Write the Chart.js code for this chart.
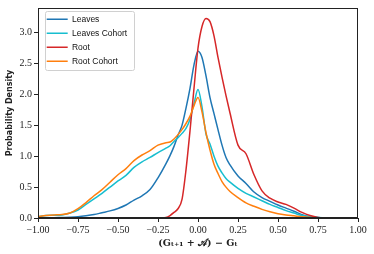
<!DOCTYPE html>
<html>
<head>
<meta charset="utf-8">
<script src="https://cdn.jsdelivr.net/npm/chart.js@4.4.1/dist/chart.umd.min.js"></script>
<style>
html,body{margin:0;padding:0;background:#fff;}
#wrap{width:374px;height:254px;}
</style>
</head>
<body>
<div id="wrap"><canvas id="c" width="374" height="254"></canvas></div>
<script>
const xs = [-1, -0.95, -0.9, -0.85, -0.8, -0.75, -0.7, -0.65, -0.6, -0.55, -0.5, -0.45, -0.4, -0.35, -0.3, -0.25, -0.2, -0.175, -0.15, -0.125, -0.1, -0.075, -0.05, -0.025, 0, 0.025, 0.05, 0.075, 0.1, 0.125, 0.15, 0.175, 0.2, 0.25, 0.3, 0.35, 0.4, 0.45, 0.5, 0.55, 0.6, 0.65, 0.7, 0.75, 0.8, 0.85, 0.9, 0.95, 1.0];

const leaves = [0, 0, 0.005, 0.008, 0.012, 0.02, 0.035, 0.055, 0.085, 0.115, 0.155, 0.21, 0.29, 0.36, 0.46, 0.65, 0.88, 1.01, 1.16, 1.34, 1.5, 1.78, 2.1, 2.48, 2.7, 2.6, 2.3, 1.95, 1.69, 1.43, 1.18, 0.98, 0.86, 0.68, 0.56, 0.42, 0.33, 0.27, 0.21, 0.16, 0.11, 0.055, 0.02, 0.008, 0.003, 0, 0, 0, 0];

const leavesCohort = [0.02, 0.04, 0.045, 0.05, 0.08, 0.13, 0.22, 0.31, 0.4, 0.5, 0.6, 0.69, 0.82, 0.91, 0.98, 1.06, 1.13, 1.17, 1.24, 1.3, 1.37, 1.45, 1.6, 1.85, 2.08, 1.8, 1.36, 1.2, 1.0, 0.84, 0.73, 0.64, 0.58, 0.48, 0.4, 0.34, 0.28, 0.22, 0.17, 0.12, 0.08, 0.04, 0.02, 0.01, 0.003, 0, 0, 0, 0];

const root = [0, 0, 0, 0, 0, 0, 0, 0, 0, 0, 0, 0, 0, 0, 0, 0, 0.01, 0.04, 0.09, 0.15, 0.3, 0.78, 1.41, 2.1, 2.75, 3.1, 3.23, 3.18, 2.95, 2.6, 2.28, 1.98, 1.7, 1.18, 1.04, 0.7, 0.44, 0.32, 0.26, 0.22, 0.16, 0.09, 0.04, 0.01, 0, 0, 0, 0, 0];

const rootCohort = [0.02, 0.04, 0.05, 0.055, 0.08, 0.15, 0.25, 0.36, 0.46, 0.58, 0.7, 0.8, 0.93, 1.02, 1.09, 1.18, 1.22, 1.23, 1.28, 1.35, 1.43, 1.53, 1.65, 1.82, 1.95, 1.72, 1.38, 1.1, 0.87, 0.72, 0.59, 0.5, 0.43, 0.33, 0.245, 0.19, 0.14, 0.1, 0.07, 0.05, 0.035, 0.02, 0.01, 0.003, 0, 0, 0, 0, 0];

const seriesNames = ['Leaves', 'Leaves Cohort', 'Root', 'Root Cohort'];
const seriesValues = [leaves, leavesCohort, root, rootCohort];
const seriesColors = ['#1f77b4', '#17becf', '#d62728', '#ff7f0e'];

const xTicks = [-1, -0.75, -0.5, -0.25, 0, 0.25, 0.5, 0.75, 1];
const yTicks = [0, 0.5, 1.0, 1.5, 2.0, 2.5, 3.0];

const fmt = (v, d) => (v < 0 ? '\u2212' : '') + Math.abs(v).toFixed(d);

const datasets = seriesNames.map((name, i) => ({
  label: name,
  data: xs.map((x, j) => ({x: x, y: seriesValues[i][j]})),
  borderColor: seriesColors[i],
  backgroundColor: seriesColors[i],
  borderWidth: 1.5,
  pointRadius: 0,
  fill: false,
  cubicInterpolationMode: 'monotone',
  order: seriesNames.length - 1 - i
}));

const LEGEND_LEFT = 41.2, LEGEND_TOP = 9.5;

const framePlugin = {
  id: 'frame',
  afterLayout(chart) {
    const lg = chart.legend;
    if (!lg) return;
    const dx = LEGEND_LEFT - lg.left, dy = LEGEND_TOP - lg.top;
    lg.left += dx; lg.right += dx; lg.top += dy; lg.bottom += dy;
    (lg.legendHitBoxes || []).forEach(h => { h.left += dx; h.top += dy; });
  },
  afterDraw(chart) {
    const ctx = chart.ctx;
    const a = chart.chartArea;
    ctx.save();
    ctx.strokeStyle = '#222';
    ctx.lineWidth = 1;
    ctx.strokeRect(Math.round(a.left) + 0.5, Math.round(a.top) + 0.5, Math.round(a.right - a.left) - 1, Math.round(a.bottom - a.top) - 1);
    const lg = chart.legend;
    if (lg && lg.legendHitBoxes && lg.legendHitBoxes.length) {
      let x0 = Infinity, y0 = Infinity, x1 = -Infinity, y1 = -Infinity;
      lg.legendHitBoxes.forEach(h => {
        x0 = Math.min(x0, h.left); y0 = Math.min(y0, h.top);
        x1 = Math.max(x1, h.left + h.width); y1 = Math.max(y1, h.top + h.height);
      });
      x0 -= 4.7; y0 -= 4; x1 += 4; y1 += 4.5;
      ctx.strokeStyle = '#d0d0d0';
      ctx.lineWidth = 1;
      ctx.beginPath();
      ctx.roundRect(Math.round(x0) + 0.5, Math.round(y0) + 0.5, Math.round(x1 - x0), Math.round(y1 - y0), 2);
      ctx.stroke();
    }
    ctx.restore();
  }
};

new Chart(document.getElementById('c'), {
  type: 'line',
  data: { datasets: datasets },
  plugins: [framePlugin],
  options: {
    responsive: false,
    animation: false,
    devicePixelRatio: 1,
    layout: { padding: { left: 0, right: 16, top: 6, bottom: 0 } },
    plugins: {
      tooltip: { enabled: false },
      legend: {
        position: 'chartArea',
        align: 'start',
        labels: {
          usePointStyle: true,
          pointStyle: 'line',
          pointStyleWidth: 21,
          padding: 5.5,
          color: '#111',
          font: { family: 'Liberation Sans', size: 8.5 },
          sort: (a, b) => a.datasetIndex - b.datasetIndex
        }
      }
    },
    scales: {
      x: {
        type: 'linear',
        min: -1, max: 1,
        afterFit(s) { s.height = 36; },
        afterBuildTicks(s) { s.ticks = xTicks.map(v => ({value: v})); },
        ticks: {
          color: '#222',
          padding: 2,
          maxRotation: 0,
          font: { family: 'Liberation Serif', size: 10 },
          callback: v => fmt(v, 2)
        },
        grid: { drawOnChartArea: false, tickLength: 4, color: '#222' },
        border: { color: '#222', width: 1 },
        title: {
          display: true,
          text: '(Gₜ₊₁ + 𝒜) − Gₜ',
          color: '#222',
          font: { family: 'DejaVu Serif', size: 9.5, weight: 'bold' },
          padding: { top: 0, bottom: 5 }
        }
      },
      y: {
        type: 'linear',
        min: 0, max: 3.4,
        afterFit(s) { s.width = 38; },
        afterBuildTicks(s) { s.ticks = yTicks.map(v => ({value: v})); },
        ticks: {
          color: '#222',
          padding: 2,
          font: { family: 'Liberation Serif', size: 10 },
          callback: v => fmt(v, 1)
        },
        grid: { drawOnChartArea: false, tickLength: 4, color: '#222' },
        border: { color: '#222', width: 1 },
        title: {
          display: true,
          text: 'Probability Density',
          color: '#222',
          font: { family: 'DejaVu Sans', size: 8, weight: 'bold' },
          padding: { top: 5.5, bottom: 0 }
        }
      }
    }
  }
});
</script>
</body>
</html>
